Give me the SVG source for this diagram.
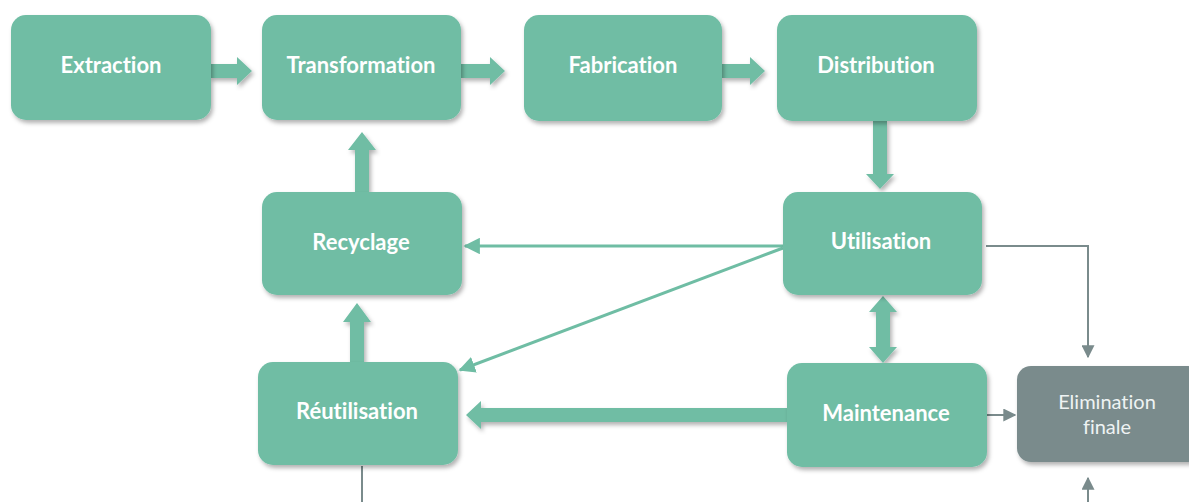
<svg xmlns="http://www.w3.org/2000/svg" width="1189" height="502" viewBox="0 0 1189 502">
<defs>
<filter id="sh" x="-10%" y="-10%" width="125%" height="130%">
<feDropShadow dx="2" dy="3" stdDeviation="2" flood-color="#000" flood-opacity="0.3"/>
</filter>
<marker id="ag" viewBox="0 0 10 10" refX="9" refY="5" markerWidth="5.5" markerHeight="5.5" orient="auto" markerUnits="strokeWidth">
<path d="M0,0 L10,5 L0,10 z" fill="#6fbda4"/>
</marker>
<marker id="ay" viewBox="0 0 10 10" refX="9" refY="5" markerWidth="6.5" markerHeight="6.5" orient="auto" markerUnits="strokeWidth">
<path d="M0,0 L10,5 L0,10 z" fill="#7a8b8c"/>
</marker>
<style>
.box{fill:#6fbda4;filter:url(#sh)}
.gbox{fill:#7a8b8c;filter:url(#sh)}
.lbl{font-family:Lato,"Liberation Sans",sans-serif;font-weight:bold;font-size:22px;fill:#ffffff;text-anchor:middle;font-variant-ligatures:none}
.glbl{font-family:Lato,"Liberation Sans",sans-serif;font-size:20px;fill:#eef3f3;text-anchor:middle;font-variant-ligatures:none}
.blk{fill:#6fbda4;filter:url(#sh)}
.thin{stroke:#6fbda4;stroke-width:3;fill:none;marker-end:url(#ag)}
.gl{stroke:#7a8b8c;stroke-width:2;fill:none}
.gla{stroke:#7a8b8c;stroke-width:2;fill:none;marker-end:url(#ay)}
</style>
</defs>
<rect width="1189" height="502" fill="#ffffff"/>
<g id="connectors">
<path class="blk" d="M210,64 H237 V57 L252,71 L237,85 V78 H210 Z"/>
<path class="blk" d="M461,64 H490 V57 L505,71 L490,85 V78 H461 Z"/>
<path class="blk" d="M722,64 H750 V57 L765,71 L750,85 V78 H722 Z"/>
<path class="blk" d="M873,121 H887 V174 H894 L880,189 L866,174 H873 Z"/>
<path class="blk" d="M355,192 V150 H348 L362,132 L376,150 H369 V192 Z"/>
<path class="blk" d="M350,362 V322 H343 L357,303 L371,322 H364 V362 Z"/>
<path class="blk" d="M876,312 H869 L883,296 L897,312 H890 V347 H897 L883,363 L869,347 H876 Z"/>
<path class="blk" d="M787,408 H481 V401 L466,415 L481,429 V422 H787 Z"/>
<line class="thin" x1="783" y1="246" x2="465" y2="246"/>
<line class="thin" x1="783" y1="248" x2="460" y2="370"/>
<path class="gla" d="M986,246 H1088 V357"/>
<line class="gla" x1="987" y1="415" x2="1015" y2="415"/>
<line class="gla" x1="1088" y1="502" x2="1088" y2="478"/>
<line class="gl" x1="362" y1="466" x2="362" y2="502"/>
</g>
<g id="extraction"><rect class="box" x="11" y="15" width="200" height="105" rx="15"/><text class="lbl" x="111" y="73">Extraction</text></g>
<g id="transformation"><rect class="box" x="262" y="15" width="199" height="105" rx="15"/><text class="lbl" x="361" y="73">Transformation</text></g>
<g id="fabrication"><rect class="box" x="524" y="15" width="198" height="106" rx="15"/><text class="lbl" x="623" y="73">Fabrication</text></g>
<g id="distribution"><rect class="box" x="777" y="15" width="200" height="106" rx="15"/><text class="lbl" x="876" y="73">Distribution</text></g>
<g id="recyclage"><rect class="box" x="262" y="192" width="200" height="103" rx="15"/><text class="lbl" x="361" y="250">Recyclage</text></g>
<g id="utilisation"><rect class="box" x="783" y="192" width="199" height="103" rx="15"/><text class="lbl" x="881" y="249">Utilisation</text></g>
<g id="reutilisation"><rect class="box" x="258" y="362" width="200" height="103" rx="15"/><text class="lbl" x="357" y="419">Réutilisation</text></g>
<g id="maintenance"><rect class="box" x="787" y="363" width="200" height="104" rx="15"/><text class="lbl" x="886" y="421">Maintenance</text></g>
<g id="elimination"><rect class="gbox" x="1017" y="366" width="185" height="96" rx="14"/><text class="glbl" x="1107" y="409">Elimination</text><text class="glbl" x="1107" y="434">finale</text></g>
</svg>
